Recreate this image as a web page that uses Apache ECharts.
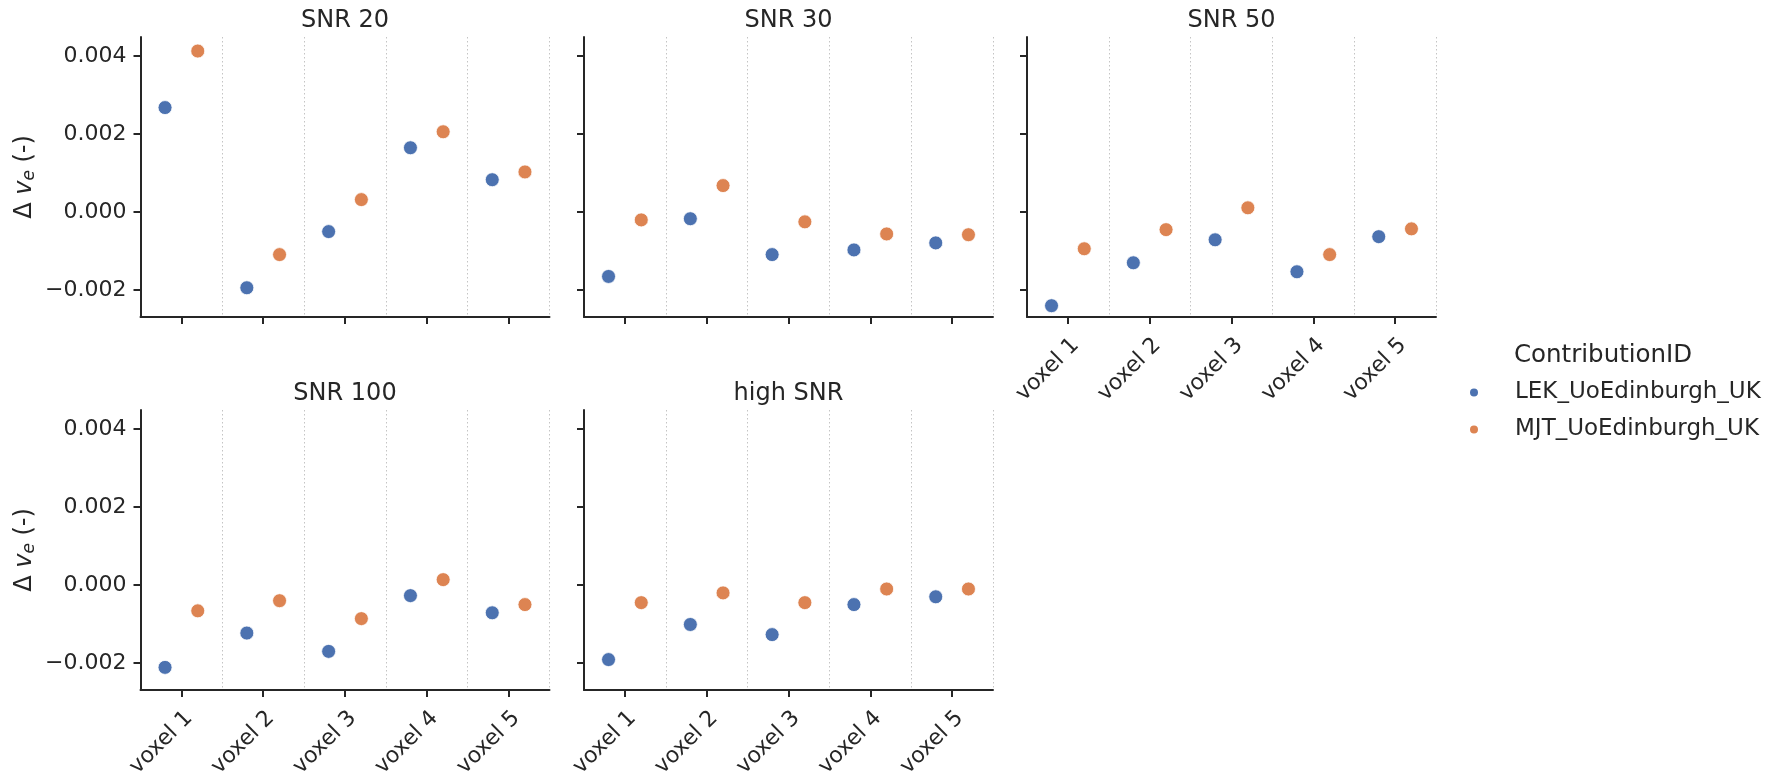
<!DOCTYPE html>
<html>
<head>
<meta charset="utf-8">
<script src="https://cdn.jsdelivr.net/npm/echarts@6/dist/echarts.min.js"></script>
<style>
html,body{margin:0;padding:0;background:#ffffff;}
#chart{width:1778px;height:784px;}
</style>
</head>
<body>
<div id="chart"></div>
<script>
// ---------------- data ----------------
const categories = ['voxel 1', 'voxel 2', 'voxel 3', 'voxel 4', 'voxel 5'];
const panelTitles = ['SNR 20', 'SNR 30', 'SNR 50', 'SNR 100', 'high SNR'];
const seriesNames = ['LEK_UoEdinburgh_UK', 'MJT_UoEdinburgh_UK'];
const legendTitle = 'ContributionID';

// LEK_UoEdinburgh_UK, one array per panel
const lekSNR20  = [0.00268, -0.00194, -0.00050, 0.00165, 0.00083];
const lekSNR30  = [-0.00165, -0.00017, -0.00109, -0.00097, -0.00079];
const lekSNR50  = [-0.00240, -0.00130, -0.00071, -0.00153, -0.00063];
const lekSNR100 = [-0.00211, -0.00123, -0.00170, -0.00027, -0.00071];
const lekHigh   = [-0.00191, -0.00101, -0.00127, -0.00050, -0.00030];

// MJT_UoEdinburgh_UK
const mjtSNR20  = [0.00413, -0.00109, 0.00032, 0.00206, 0.00103];
const mjtSNR30  = [-0.00020, 0.00068, -0.00025, -0.00056, -0.00058];
const mjtSNR50  = [-0.00094, -0.00045, 0.00011, -0.00109, -0.00043];
const mjtSNR100 = [-0.00066, -0.00040, -0.00086, 0.00014, -0.00050];
const mjtHigh   = [-0.00045, -0.00020, -0.00045, -0.00010, -0.00010];

const yTickValues = [-0.002, 0, 0.002, 0.004];
const yTickLabels = ['\u22120.002', '0.000', '0.002', '0.004'];

// ---------------- layout / style ----------------
const lekByPanel = [lekSNR20, lekSNR30, lekSNR50, lekSNR100, lekHigh];
const mjtByPanel = [mjtSNR20, mjtSNR30, mjtSNR50, mjtSNR100, mjtHigh];
const colors = ['#4C72B0', '#DD8452'];
const ink = '#262626';
const FONT = 'DejaVu Sans';
const colLeft = [140.5, 584, 1027];
const rowTop = [37, 410];
const gridW = 409, gridH = 280;
const yMin = -0.00269, yMax = 0.00449;
const dodge = 0.2;

const panels = [
  {row: 0, col: 0, xl: false, yl: true},
  {row: 0, col: 1, xl: false, yl: false},
  {row: 0, col: 2, xl: true,  yl: false},
  {row: 1, col: 0, xl: true,  yl: true},
  {row: 1, col: 1, xl: true,  yl: false}
];

const grid = [], xAxis = [], yAxis = [], series = [], graphic = [];

panels.forEach((p, k) => {
  const left = colLeft[p.col], top = rowTop[p.row];
  grid.push({left: left, top: top, width: gridW, height: gridH, containLabel: false, outerBoundsMode: 'none'});

  // visible category axis (ticks, labels, boundary grid lines)
  xAxis.push({
    gridIndex: k, type: 'category', data: categories, boundaryGap: true, position: 'bottom',
    axisLine: {show: true, onZero: false, lineStyle: {color: ink, width: 2}},
    axisTick: {show: true, alignWithLabel: true, length: 7, lineStyle: {color: ink, width: 2}},
    axisLabel: {show: p.xl, rotate: 45, margin: 17, verticalAlign: 'top', fontSize: 22, color: ink, fontFamily: FONT, interval: 0},
    splitLine: {show: true, lineStyle: {type: [1.5, 2.5], color: '#c4c4c4', width: 1}},
    z: 1
  });
  // hidden value axis for dodged positions
  xAxis.push({
    gridIndex: k, type: 'value', min: -0.5, max: 4.5, show: false,
    axisLine: {onZero: false},
    splitLine: {show: false}
  });

  const yax = {
    gridIndex: k, type: 'value', min: yMin, max: yMax, position: 'left', z: 3,
    axisLine: {show: true, onZero: false, lineStyle: {color: ink, width: 2}},
    axisTick: {show: true, length: 7, lineStyle: {color: ink, width: 2}, customValues: yTickValues},
    axisLabel: {
      show: p.yl, fontSize: 22, color: ink, fontFamily: FONT, margin: 14,
      customValues: yTickValues,
      formatter: function (v) {
        const i = yTickValues.findIndex(t => Math.abs(t - v) < 1e-9);
        return i >= 0 ? yTickLabels[i] : '';
      }
    },
    splitLine: {show: false}
  };
  if (p.yl) {
    yax.name = '{d|\u0394 }{v|v}{s|e}{d| (-)}';
    yax.nameLocation = 'middle';
    yax.nameRotate = 90;
    yax.nameGap = 102;
    yax.nameTextStyle = {
      color: ink, fontFamily: FONT, fontSize: 24,
      rich: {
        d: {fontSize: 24, color: ink, fontFamily: FONT},
        v: {fontSize: 24, color: ink, fontFamily: FONT, fontStyle: 'italic'},
        s: {fontSize: 17, color: ink, fontFamily: FONT, fontStyle: 'italic', padding: [10, 0, 0, 0]}
      }
    };
  }
  yAxis.push(yax);

  [lekByPanel[k], mjtByPanel[k]].forEach((vals, s) => {
    series.push({
      name: seriesNames[s], type: 'scatter',
      xAxisIndex: 2 * k + 1, yAxisIndex: k,
      symbol: 'circle', symbolSize: 14,
      itemStyle: {color: colors[s], borderColor: '#ffffff', borderWidth: 0.8, opacity: 1},
      data: vals.map((v, i) => [i + (s === 0 ? -dodge : dodge), v]),
      z: 5
    });
  });

  graphic.push({
    type: 'text', x: left + gridW / 2, y: p.row === 0 ? 21 : 394,
    style: {text: panelTitles[k], font: '24px "DejaVu Sans"', fill: ink, align: 'center', verticalAlign: 'middle', textAlign: 'center', textVerticalAlign: 'middle'}
  });
});

graphic.push({
  type: 'text', x: 1514, y: 356,
  style: {text: legendTitle, font: '24.5px "DejaVu Sans"', fill: ink, align: 'left', verticalAlign: 'middle', textAlign: 'left', textVerticalAlign: 'middle'}
});

const option = {
  backgroundColor: '#ffffff',
  animation: false,
  textStyle: {fontFamily: FONT},
  grid: grid,
  xAxis: xAxis,
  yAxis: yAxis,
  series: series,
  graphic: graphic,
  legend: {
    data: seriesNames,
    orient: 'vertical',
    left: 1468, top: 381,
    padding: 0,
    icon: 'circle',
    itemWidth: 10, itemHeight: 10,
    itemGap: 14,
    textStyle: {fontSize: 23, color: ink, fontFamily: FONT, padding: [0, 0, 0, 31]},
    selectedMode: false
  }
};

const chart = echarts.init(document.getElementById('chart'), null, {renderer: 'canvas'});
chart.setOption(option);
</script>
</body>
</html>
